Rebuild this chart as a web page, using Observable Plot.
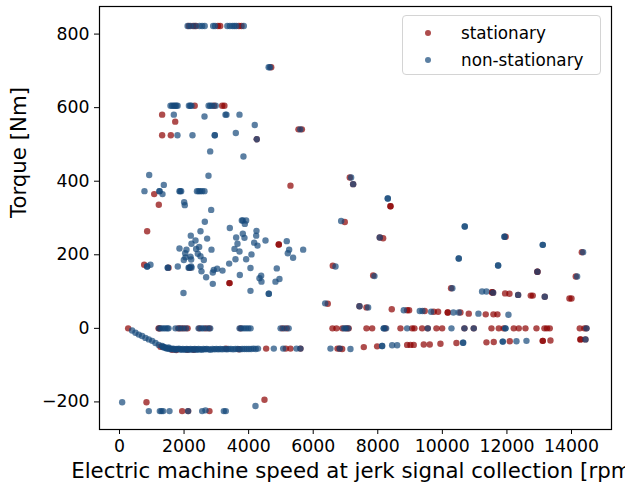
<!DOCTYPE html>
<html>
<head>
<meta charset="utf-8">
<script src="https://cdn.jsdelivr.net/npm/d3@7"></script>
<script src="https://cdn.jsdelivr.net/npm/@observablehq/plot@0.6"></script>
<style>
  body { margin: 0; background: #fff; }
  #wrap { position: relative; width: 625px; height: 485px; font-family: "DejaVu Sans", sans-serif; }
  #legend { position: absolute; left: 402px; top: 15px; width: 199px; height: 60px; box-sizing: border-box;
    border: 1px solid #d4d4d4; border-radius: 4px; background: rgba(255,255,255,0.8); }
  .item { position: absolute; left: 0; height: 20px; font-size: 16.8px; line-height: 20px; color: #000; white-space: nowrap; }
  .sw { position: absolute; left: 22px; top: 7px; width: 6px; height: 6px; border-radius: 50%; }
  .lab { position: absolute; left: 58px; top: 0; }
</style>
</head>
<body>
<div id="wrap">
  <div id="chart"></div>
  <div id="legend">
    <div class="item" style="top:7px"><span class="sw" style="background:rgba(139,0,0,0.7)"></span><span class="lab">stationary</span></div>
    <div class="item" style="top:34px"><span class="sw" style="background:rgba(22,72,122,0.7)"></span><span class="lab">non-stationary</span></div>
  </div>
</div>
<script>
const xTicks = [0, 2000, 4000, 6000, 8000, 10000, 12000, 14000];
const yTicks = [-200, 0, 200, 400, 600, 800];
const xLabel = "Electric machine speed at jerk signal collection [rpm]";
const yLabel = "Torque [Nm]";
const seriesNames = ["stationary", "non-stationary"];

// stationary: [speed rpm, torque Nm]
const statPoints = [
  [2150,822],[2280,822],[2370,822],[3050,822],[3120,822],[3700,822],[3780,822],
  [4700,710],
  [2330,605],[2930,605],[3180,605],[3250,605],
  [5544,541],[5650,541],
  [1321,581],[1726,562],[1321,525],[1590,525],[4250,514],
  [5296,388],
  [1075,365],[1218,336],[857,264],
  [4934,228],[4934,228],[3407,123],[3407,123],
  [765,173],[1520,165],[2180,165],
  [7133,410],[7237,392],[8393,332],[8393,332],[6978,289],[8062,247],[8166,245],[6606,170],[7857,144],
  [6451,67],[7433,60],[7650,57],[8433,52],[8909,49],[8971,49],[9455,47],[9735,45],[9869,45],
  [10167,43],[10167,43],[10560,43],[10818,40],[11344,38],[11582,38],[11706,38],
  [10270,109],[11541,98],[11541,98],[11572,97],[11960,249],[11944,95],[12078,94],[12347,91],
  [12738,89],[12800,89],[13172,86],[12945,154],[12945,154],[13937,81],[14000,81],[14320,207],[14132,141],
  [269,0],[1210,0],[1250,0],[1820,0],[1900,0],[2000,0],[2110,0],[2480,0],[2660,0],[2780,0],[3750,0],
  [5050,0],[5180,0],[6597,0],[6720,0],[6900,0],[7030,0],[7100,0],[7650,0],[7826,0],[8230,0],[8703,0],
  [9063,0],[9135,0],[9373,0],[9548,0],[9817,0],[9994,0],[10684,0],[10973,0],[11521,0],[11748,0],
  [11900,0],[12212,0],[12367,0],[12574,0],[12915,0],[13162,0],[13240,0],[13327,0],[14256,0],[14400,0],[14463,0],
  [1270,-50],[1630,-58],[1760,-59],[2100,-58],[2300,-58],[3300,-55],[3700,-57],[4543,-55],[5150,-55],
  [5296,-55],[5605,-55],[6752,-55],[6820,-55],[6897,-56],[7567,-51],[7980,-49],[8909,-45],[9012,-45],
  [9114,-45],[9424,-44],[9610,-44],[9941,-42],[10437,-40],[11366,-38],[11592,-37],[12088,-35],
  [13110,-34],[13110,-34],[13348,-33],[14277,-30],[14277,-30],[14432,-30],
  [836,-201],[1941,-225],[2126,-225],[2787,-225],[4491,-194]
];

// non-stationary: [speed rpm, torque Nm]
const nonStatPoints = [
  [2110,822],[2200,822],[2330,822],[2480,822],[2560,822],[2640,822],[2900,822],[2960,822],
  [3340,822],[3420,822],[3500,822],[3560,822],[3620,822],[3850,822],
  [4620,710],[4660,710],
  [1580,605],[1630,605],[1680,605],[1720,605],[1760,605],[1800,605],[2150,605],[2190,605],[2230,605],
  [2760,605],[2810,605],[2870,605],[2980,605],
  [5600,541],
  [1683,581],[2633,576],[3283,581],[3314,581],[3717,581],[4190,553],[1796,525],[2261,525],[2952,525],
  [2952,525],[3603,531],[4250,514],[2809,481],[3840,467],
  [920,417],[1373,390],[774,373],[1239,373],[1239,373],[1332,365],[1858,373],[1880,373],[1910,373],
  [2400,373],[2450,373],[2500,373],[2560,373],[2633,373],[2757,415],[2003,343],[2023,335],[2840,322],
  [3789,293],[3820,293],[3923,293],[3882,284],[2643,290],
  [2209,252],[2509,264],[2715,244],[2354,239],[2230,230],[2468,221],[1858,217],[2075,214],[2374,216],
  [2849,214],[2034,204],[2426,203],[2509,196],[2199,195],[2044,193],[1992,186],[2220,187],[2612,186],
  [1806,168],[2220,168],[2509,168],[2540,155],[2920,159],[3025,162],[3190,157],[2890,152],[2684,139],
  [2890,121],[1982,96],[3417,273],[3614,247],[3820,257],[3871,246],[4243,265],[4234,252],[4522,239],
  [3655,230],[4172,233],[4274,225],[3562,216],[3717,209],[4088,201],[5181,237],[5255,214],[5213,204],
  [5689,214],[5377,192],[3593,188],[3923,188],[3397,176],[4057,164],[4872,163],[3727,145],[4388,143],
  [4336,136],[4398,127],[4955,134],[4831,127],[4057,102],[4625,94],[4625,94],
  [857,168],[857,168],[960,173],[1497,165],[1497,165],[2140,165],[2160,165],[2230,165],
  [7175,410],[7237,392],[8310,353],[8310,353],[6866,292],[8062,247],[6690,168],[7897,142],[6371,68],
  [7433,60],[7702,57],[8805,49],[9300,47],[9383,47],[9653,45],[10343,43],[10508,43],[11117,40],[12047,37],
  [10694,277],[10694,277],[10508,190],[10508,190],[10310,109],[11230,100],[11365,100],[11572,97],
  [11924,249],[11924,249],[11727,171],[11727,171],[12347,91],[13172,86],[13110,227],[13110,227],
  [12945,154],[14360,207],[14174,141],
  [390,-6],[495,-12],[598,-17],[700,-21],[805,-26],[908,-30],[1013,-34],[1115,-40],[1218,-45],[1321,-48],
  [1230,0],[1300,0],[1360,0],[1420,0],[1480,0],[1520,0],[1735,0],[1850,0],[1950,0],[2060,0],[2450,0],
  [2540,0],[2600,0],[2720,0],[2810,0],[3720,0],[3780,0],[3850,0],[3920,0],[3990,0],[4060,0],[4990,0],
  [5110,0],[5240,0],[6950,0],[7000,0],[7080,0],[8186,0],[8186,0],[8258,0],[8909,0],[9548,0],[10282,0],
  [10684,0],[10973,0],[11954,0],[11954,0],[14463,0],
  [1340,-50],[1370,-52],[1400,-51],[1430,-53],[1460,-55],[1490,-54],[1520,-52],[1550,-56],[1580,-55],
  [1610,-57],[1650,-55],[1690,-56],[1720,-58],[1760,-56],[1800,-57],[1840,-55],[1880,-57],[1920,-58],
  [1960,-56],[2000,-57],[2040,-58],[2080,-56],[2120,-57],[2160,-58],[2200,-56],[2240,-57],[2290,-58],
  [2330,-56],[2370,-57],[2410,-58],[2450,-56],[2500,-57],[2550,-58],[2600,-56],[2650,-57],[2700,-56],
  [2760,-57],[2820,-58],[2880,-56],[2940,-57],[3000,-56],[3060,-57],[3120,-56],[3180,-57],[3250,-56],
  [3320,-57],[3380,-56],[3450,-56],[3520,-57],[3590,-56],[3660,-56],[3730,-57],[3800,-56],[3870,-56],
  [3940,-56],[4010,-56],[4080,-56],[4150,-55],[4220,-56],[4290,-55],
  [4780,-55],[5070,-55],[5482,-55],[5605,-55],[6535,-55],[6820,-55],[7154,-56],[8135,-48],[8135,-48],
  [8445,-46],[8600,-46],[10643,-39],[10643,-39],[11871,-36],[11871,-36],[12295,-35],[12605,-34],[14432,-30],
  [83,-201],[908,-225],[1250,-225],[1300,-225],[1353,-225],[1549,-225],[2126,-225],[2561,-225],
  [2664,-223],[3231,-225],[3293,-225],[4212,-211]
];

const colors = { "stationary": "#8b0000", "non-stationary": "#16487a" };
const fmtY = d => d < 0 ? "\u2212" + (-d) : String(d);

const chart = Plot.plot({
  width: 625,
  height: 485,
  marginLeft: 99,
  marginRight: 14,
  marginTop: 6,
  marginBottom: 56,
  style: { fontFamily: "DejaVu Sans, sans-serif", fontSize: "17.3px", background: "#fff", color: "#000" },
  x: { domain: [-619, 15239] },
  y: { domain: [-275, 875] },
  marks: [
    Plot.dot(statPoints, { x: d => d[0], y: d => d[1], r: 3.2, fill: colors[seriesNames[0]], fillOpacity: 0.7, stroke: "none" }),
    Plot.dot(nonStatPoints, { x: d => d[0], y: d => d[1], r: 3.2, fill: colors[seriesNames[1]], fillOpacity: 0.7, stroke: "none" }),
    Plot.frame({ stroke: "#000", strokeWidth: 1.2 }),
    Plot.axisX({ ticks: xTicks, tickSize: 5, tickPadding: 5, tickFormat: d => String(d), label: null, fontSize: 17.3 }),
    Plot.axisY({ ticks: yTicks, tickSize: 5, tickPadding: 5, tickFormat: fmtY, label: null, fontSize: 17.3 }),
    Plot.text([xLabel], { text: d => d, frameAnchor: "bottom", dy: 42, fontSize: 21.3, lineAnchor: "middle" }),
    Plot.text([yLabel], { text: d => d, frameAnchor: "left", dx: -80, rotate: -90, fontSize: 21.3, lineAnchor: "middle" })
  ]
});
document.getElementById("chart").appendChild(chart);
</script>
</body>
</html>
